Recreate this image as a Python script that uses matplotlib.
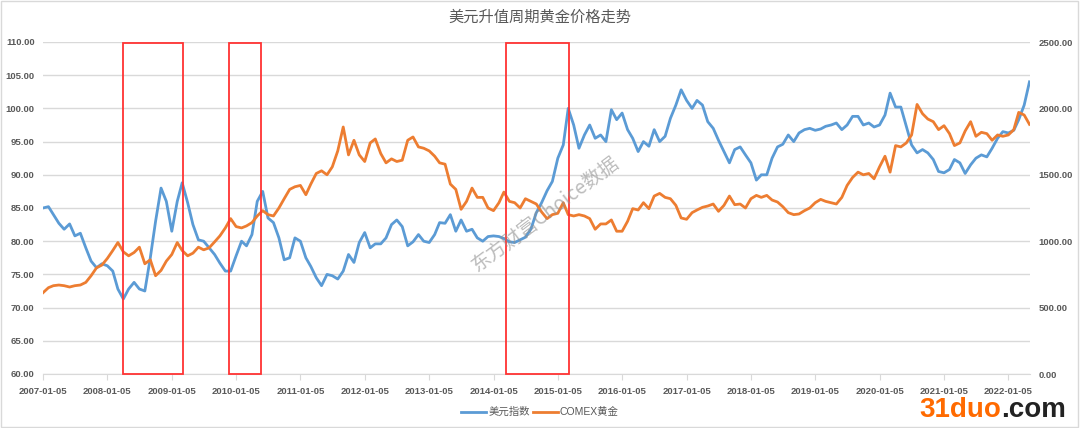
import pandas as pd
import numpy as np
import matplotlib.pyplot as plt
import matplotlib.dates as mdates
from matplotlib.patches import Rectangle

plt.rcParams['font.family'] = ['Liberation Sans', 'Noto Sans CJK SC', 'DejaVu Sans']

# 数据（按月读取，2007-01 至 2022-05）
dxy_values = [
    85.0, 85.2, 84.0, 82.7, 81.8, 82.6, 80.8, 81.2, 79.0, 77.0, 76.0, 76.6,
    76.3, 75.5, 72.8, 71.3, 72.8, 73.8, 72.8, 72.5, 77.5, 83.0, 88.0, 86.0,
    81.5, 86.0, 88.8, 85.8, 82.5, 80.2, 80.0, 79.0, 78.0, 76.7, 75.5, 75.5,
    77.8, 80.0, 79.3, 81.0, 86.0, 87.5, 83.5, 82.8, 80.5, 77.2, 77.5, 80.5,
    80.0, 77.5, 76.2, 74.5, 73.3, 75.0, 74.8, 74.3, 75.5, 78.0, 76.8, 79.8,
    81.3, 79.0, 79.6, 79.6, 80.5, 82.5, 83.2, 82.2, 79.3, 79.9, 81.0, 80.0,
    79.8, 81.0, 82.8, 82.7, 84.0, 81.5, 83.2, 81.5, 81.8, 80.5, 80.0, 80.7,
    80.8, 80.7, 80.4, 79.9, 79.8, 80.2, 80.6, 81.8, 84.3, 85.8, 87.6, 89.0,
    92.5, 94.5, 100.0, 97.5, 94.0, 96.0, 97.5, 95.5, 96.0, 95.0, 99.8, 98.3,
    99.3, 96.8, 95.5, 93.5, 95.0, 94.3, 96.8, 95.0, 95.8, 98.5, 100.5, 102.8,
    101.2, 100.0, 101.2, 100.5, 98.0, 97.0, 95.2, 93.5, 91.8, 93.8, 94.2, 93.0,
    91.8, 89.2, 90.0, 90.0, 92.5, 94.2, 94.6, 96.0, 95.0, 96.3, 96.8, 97.0,
    96.7, 96.9, 97.3, 97.5, 97.8, 96.8, 97.5, 98.8, 98.8, 97.5, 97.8, 97.2,
    97.5, 99.0, 102.3, 100.2, 100.2, 97.3, 94.5, 93.3, 93.8, 93.3, 92.3, 90.5,
    90.3, 90.8, 92.3, 91.8, 90.2, 91.5, 92.5, 93.0, 92.7, 94.0, 95.5, 96.5,
    96.3, 96.7, 98.3, 100.5, 104.0,
]

gold_values = [
    612, 650, 665, 670, 665, 655, 665, 670, 690, 740, 800, 820,
    870, 930, 990, 920, 890, 915, 955, 830, 860, 740, 780, 850,
    900, 990, 930, 890, 910, 955, 935, 950, 995, 1040, 1100, 1170,
    1110, 1100, 1115, 1140, 1190, 1230, 1200, 1190, 1250, 1320, 1390, 1410,
    1420, 1350, 1430, 1510, 1530, 1500, 1560, 1680, 1860, 1650, 1760, 1650,
    1600, 1740, 1770, 1660, 1590, 1620, 1600, 1610, 1760, 1785, 1710, 1700,
    1680, 1640, 1590, 1580, 1430, 1390, 1240, 1300, 1400, 1330, 1330, 1250,
    1230, 1290, 1370, 1300, 1290, 1250, 1320, 1300, 1280, 1220, 1170, 1200,
    1210, 1290, 1200, 1190, 1200, 1190, 1170, 1090, 1130, 1130, 1160, 1075,
    1075, 1150, 1245, 1235, 1290, 1245, 1340, 1360, 1330, 1320, 1270, 1175,
    1165, 1215, 1235, 1255, 1265, 1280, 1225, 1270, 1340, 1275, 1280, 1250,
    1320, 1345, 1330, 1345, 1310, 1295, 1260, 1215, 1200, 1205, 1230, 1250,
    1290, 1315, 1300, 1290, 1280, 1330, 1420, 1480, 1520, 1500, 1510, 1470,
    1560, 1640, 1520, 1720, 1710, 1740, 1800, 2030, 1960, 1920, 1900, 1840,
    1870, 1810, 1720, 1740, 1830, 1900, 1790, 1820, 1810, 1760, 1800, 1790,
    1800, 1840, 1970, 1950, 1880,
]

dates = pd.date_range('2007-01-01', periods=len(dxy_values), freq='MS') + pd.Timedelta(days=4)
tick_dates = pd.date_range('2007-01-01', '2022-01-01', freq='YS') + pd.Timedelta(days=4)
tick_labels = [d.strftime('%Y-%m-%d') for d in tick_dates]

# 美元升值周期（红框）
periods = [('2008-04-04', '2009-03-10'), ('2009-11-26', '2010-05-26'), ('2014-03-17', '2015-03-10')]

text_color = '#595959'
fig = plt.figure(figsize=(10.8, 4.28), dpi=100)
ax = fig.add_axes([43 / 1080, 54 / 428, 987 / 1080, 332 / 428])
ax2 = ax.twinx()

ax.plot(dates, dxy_values, color='#5B9BD5', lw=2, label='美元指数')
ax2.plot(dates, gold_values, color='#ED7D31', lw=2, label='COMEX黄金')

ax.set_ylim(60, 110)
ax.set_yticks(np.arange(60, 110.1, 5))
ax.set_yticklabels([f'{v:.2f}' for v in np.arange(60, 110.1, 5)])
ax2.set_ylim(0, 2500)
ax2.set_yticks(np.arange(0, 2501, 500))
ax2.set_yticklabels([f'{v:.2f}' for v in np.arange(0, 2501, 500)])

ax.set_xlim(pd.Timestamp('2007-01-05'), pd.Timestamp('2022-05-08'))
ax.set_xticks(tick_dates)
ax.set_xticklabels(tick_labels)

ax.grid(axis='y', color='#d9d9d9', lw=1)
ax.set_axisbelow(True)
for a in (ax, ax2):
    for s in ['top', 'left', 'right']:
        a.spines[s].set_visible(False)
    a.spines['bottom'].set_color('#d9d9d9')
ax2.spines['bottom'].set_visible(False)
ax.tick_params(axis='y', length=0, pad=6, labelsize=6.8, labelcolor=text_color)
ax2.tick_params(axis='y', length=0, pad=6, labelsize=6.8, labelcolor=text_color)
ax.tick_params(axis='x', length=4, color='#d9d9d9', pad=5, labelsize=6.8, labelcolor=text_color)
for lab in ax.get_xticklabels() + ax.get_yticklabels() + ax2.get_yticklabels():
    lab.set_fontweight('bold')

for start, end in periods:
    x0 = mdates.date2num(pd.Timestamp(start))
    x1 = mdates.date2num(pd.Timestamp(end))
    ax2.add_patch(Rectangle((x0, 0), x1 - x0, 0.996, transform=ax2.get_xaxis_transform(),
                            fill=False, edgecolor='#ff3333', lw=1.3, zorder=5, clip_on=False))

fig.text(0.5, 0.96, '美元升值周期黄金价格走势', ha='center', va='center', fontsize=11,
         color=text_color, family=['Noto Sans CJK SC'])

fig.legend(loc='center', bbox_to_anchor=(0.5, 0.037), ncol=2, frameon=False,
           handlelength=2.4, handletextpad=0.2, columnspacing=0.3, labelcolor=text_color,
           prop={'family': ['Liberation Sans', 'Noto Sans CJK SC'], 'size': 7.5})

# 水印
fig.text(0.505, 0.5, '东方财富Choice数据', rotation=37, ha='center', va='center', fontsize=14,
         color='#909090', alpha=0.6, family=['Noto Sans CJK SC'], zorder=10)
t1 = fig.text(919 / 1080, 11 / 428, '31duo', ha='left', va='baseline', fontsize=20,
              fontweight='bold', color='#ff6a00', family=['Liberation Sans'])
ax.annotate('.com', xy=(1, 0), xycoords=t1, ha='left', va='bottom', fontsize=20,
            fontweight='bold', color='#222222', family=['Liberation Sans'], annotation_clip=False)

fig.add_artist(Rectangle((0.001, 0.003), 0.997, 0.994, transform=fig.transFigure,
                         fill=False, edgecolor='#d9d9d9', lw=1))

plt.savefig('out.png', dpi=100)
